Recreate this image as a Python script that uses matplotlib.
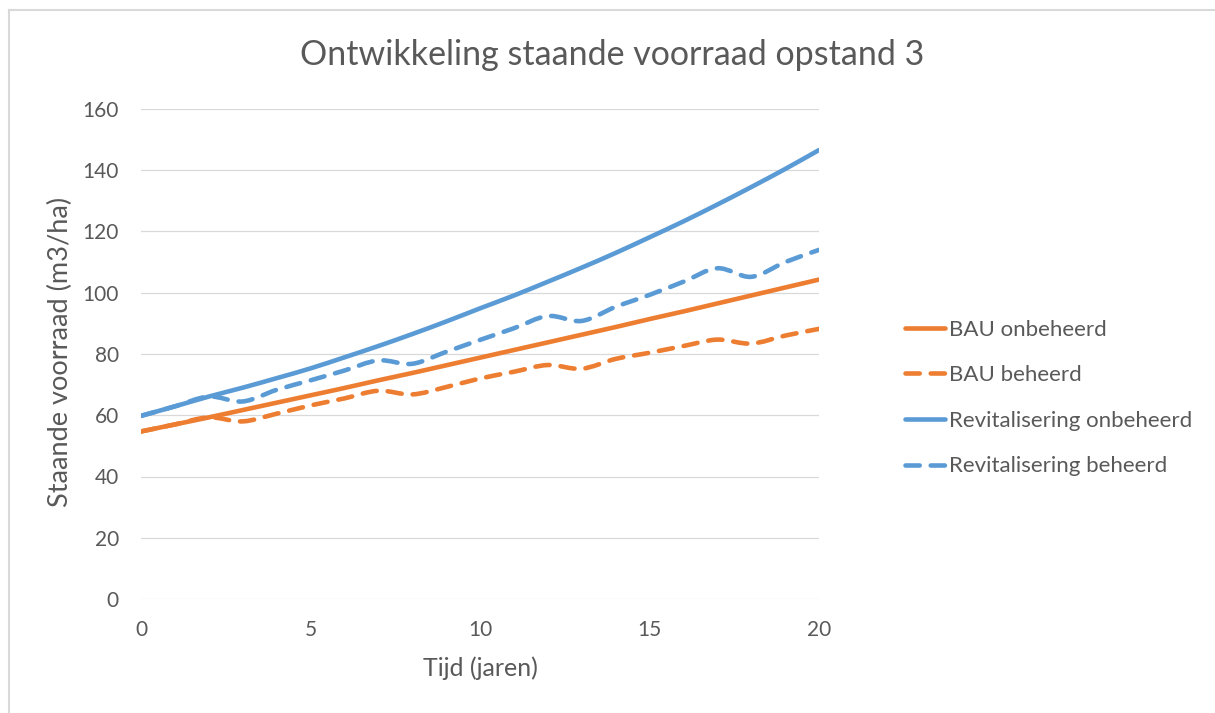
import numpy as np
import matplotlib
matplotlib.use("Agg")
import matplotlib.pyplot as plt
from matplotlib.path import Path
from matplotlib.patches import PathPatch
from matplotlib.lines import Line2D

plt.rcParams['font.family'] = ['Lato', 'DejaVu Sans']

# data
years = list(range(21))
bau_onbeheerd = [54.7, 57.0, 59.3, 61.7, 64.1, 66.5, 68.9, 71.4, 73.8, 76.3, 78.8,
                 81.3, 83.8, 86.3, 88.8, 91.4, 93.9, 96.5, 99.1, 101.7, 104.3]
bau_beheerd = [54.7, 57.0, 59.3, 58.0, 60.5, 63.2, 65.5, 68.0, 66.8, 69.2, 72.0,
               74.2, 76.4, 75.2, 78.4, 80.4, 82.6, 84.7, 83.4, 86.0, 88.2]
revit_onbeheerd = [59.8, 62.9, 66.1, 69.0, 72.1, 75.3, 78.9, 82.6, 86.5, 90.6, 94.9,
                   99.1, 103.6, 108.2, 113.0, 118.1, 123.3, 128.8, 134.5, 140.4, 146.6]
revit_beheerd = [59.8, 62.9, 66.1, 64.5, 68.3, 71.4, 74.6, 77.9, 76.8, 80.7, 84.6,
                 88.4, 92.4, 90.8, 95.4, 99.3, 103.6, 108.0, 105.2, 110.0, 114.0]

labels = ['BAU onbeheerd', 'BAU beheerd', 'Revitalisering onbeheerd', 'Revitalisering beheerd']
y_ticks = [0, 20, 40, 60, 80, 100, 120, 140, 160]
x_ticks = [0, 5, 10, 15, 20]

ORANGE = '#ED7D31'
BLUE = '#5B9BD5'
GREY_TXT = '#595959'
GRID = '#D9D9D9'


def smooth_path(x, y):
    # Excel-style smoothed line: Catmull-Rom segments as cubic Beziers
    p = np.column_stack([x, y]).astype(float)
    n = len(p)
    verts = [p[0]]
    codes = [Path.MOVETO]
    for i in range(n - 1):
        p0 = p[i - 1] if i > 0 else p[i]
        p3 = p[i + 2] if i + 2 < n else p[i + 1]
        c1 = p[i] + (p[i + 1] - p0) / 6.0
        c2 = p[i + 1] - (p3 - p[i]) / 6.0
        verts += [c1, c2, p[i + 1]]
        codes += [Path.CURVE4] * 3
    return Path(verts, codes)


fig = plt.figure(figsize=(12.15, 7.13), dpi=100)
ax = fig.add_axes([141 / 1215, 1 - 599 / 713, 678 / 1215, 490 / 713])

lw = 3.3
dash = (0, (3.1, 2.4))
series = [
    (bau_onbeheerd, ORANGE, '-'),
    (bau_beheerd, ORANGE, dash),
    (revit_onbeheerd, BLUE, '-'),
    (revit_beheerd, BLUE, dash),
]
handles = []
for (vals, col, ls), lab in zip(series, labels):
    patch = PathPatch(smooth_path(years, vals), fill=False, edgecolor=col,
                      linewidth=lw, linestyle=ls, capstyle='round', zorder=3)
    ax.add_patch(patch)
    handles.append(Line2D([], [], color=col, lw=lw, linestyle=ls,
                          solid_capstyle='round', dash_capstyle='round', label=lab))

ax.set_xlim(0, 20)
ax.set_ylim(0, 160)
ax.set_xticks(x_ticks)
ax.set_yticks(y_ticks)
ax.tick_params(length=0, labelsize=15, colors=GREY_TXT)
ax.tick_params(axis='x', pad=15)
ax.tick_params(axis='y', pad=16)
ax.grid(axis='y', color=GRID, linewidth=0.9)
ax.set_axisbelow(True)
for s in ax.spines.values():
    s.set_visible(False)

ax.set_xlabel('Tijd (jaren)', fontsize=18, color=GREY_TXT)
ax.set_ylabel('Staande voorraad (m3/ha)', fontsize=19.5, color=GREY_TXT)
ax.xaxis.set_label_coords(0.5, (599 - 668) / 490)
ax.xaxis.label.set_va('center')
ax.yaxis.set_label_coords((60 - 141) / 678, (599 - 352) / 490)
ax.yaxis.label.set_va('center')

fig.text(612 / 1215, 1 - 55 / 713, 'Ontwikkeling staande voorraad opstand 3',
         ha='center', va='center', fontsize=24.5, color=GREY_TXT)

fig.legend(handles=handles, loc='center left', bbox_to_anchor=(905 / 1215, 1 - 398 / 713),
           frameon=False, fontsize=16, handlelength=1.8, handletextpad=0.2,
           labelspacing=1.15, borderpad=0, borderaxespad=0, labelcolor=GREY_TXT)

# chart area border (left and top edges visible in the reference)
fig.add_artist(Line2D([8.5 / 1215, 8.5 / 1215], [0, 1 - 9.5 / 713], color=GRID, lw=1.5))
fig.add_artist(Line2D([8.5 / 1215, 1], [1 - 9.5 / 713, 1 - 9.5 / 713], color=GRID, lw=1.5))

fig.savefig('out.png', dpi=100)
